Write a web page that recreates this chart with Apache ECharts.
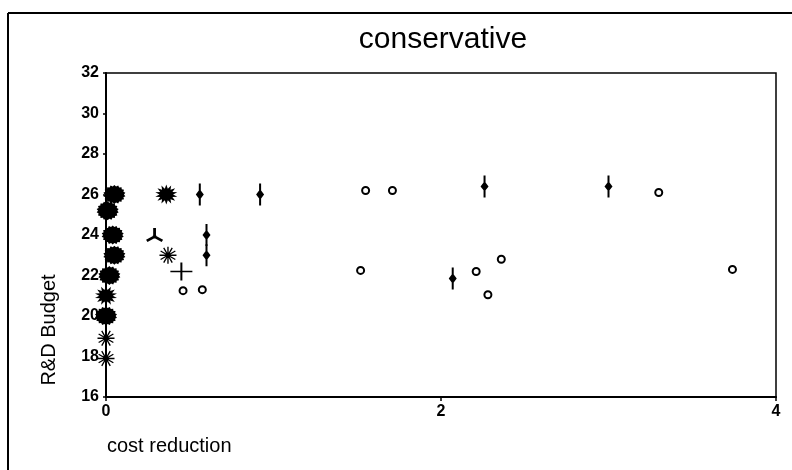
<!DOCTYPE html>
<html>
<head>
<meta charset="utf-8">
<script src="https://cdn.jsdelivr.net/npm/echarts@6/dist/echarts.min.js"></script>
<style>
html,body{margin:0;padding:0;background:#fff;}
#c{width:792px;height:470px;}
</style>
</head>
<body>
<div id="c"></div>
<script>
// ---- data ----
var titleText = 'conservative';
var xName = 'cost reduction';
var yName = 'R&D Budget';
var xTicks = [0, 2, 4];
var yTicks = [16, 18, 20, 22, 24, 26, 28, 30, 32];

var blobPts = [[0.05, 26], [0.01, 25.2], [0.04, 24], [0.05, 23], [0.02, 22], [0, 20]];
var sunPts = [[0.36, 26], [0, 21]];
var asteriskPts = [[0.37, 23], [0, 18.9], [0, 17.9]];
var triPts = [[0.29, 24]];
var plusPts = [[0.45, 22.2]];
var dashPts = [[0.56, 26], [0.6, 24], [0.6, 23], [0.92, 26], [2.26, 26.4], [2.07, 21.85], [3.0, 26.4]];
var circlePts = [[0.46, 21.25], [0.575, 21.3], [1.55, 26.2], [1.71, 26.2], [1.52, 22.25], [2.21, 22.2], [2.36, 22.8], [2.28, 21.05], [3.3, 26.1], [3.74, 22.3]];

// ---- marker shapes ----
function f(v){ return (Math.round(v*1000)/1000).toString(); }
function polyStar(n, inner){
  var s = '';
  for (var i = 0; i < 2*n; i++){
    var r = (i % 2) ? inner : 1;
    var a = -Math.PI/2 + i*Math.PI/n;
    s += (i === 0 ? 'M' : 'L') + f(r*Math.cos(a)) + ',' + f(r*Math.sin(a)) + ' ';
  }
  return 'path://' + s + 'Z';
}
function armsPath(angles, len, t, core){
  var s = '';
  angles.forEach(function(deg){
    var a = deg*Math.PI/180, dx = Math.cos(a), dy = Math.sin(a), px = -dy, py = dx;
    var p = [[-px*t, -py*t], [dx*len - px*t, dy*len - py*t], [dx*len + px*t, dy*len + py*t], [px*t, py*t]];
    s += 'M' + f(p[0][0]) + ',' + f(p[0][1]) + ' L' + f(p[1][0]) + ',' + f(p[1][1]) +
         ' L' + f(p[2][0]) + ',' + f(p[2][1]) + ' L' + f(p[3][0]) + ',' + f(p[3][1]) + ' Z ';
  });
  if (core){
    for (var i = 0; i < 12; i++){
      var b = i*Math.PI/6;
      s += (i === 0 ? 'M' : 'L') + f(core*Math.cos(b)) + ',' + f(core*Math.sin(b)) + ' ';
    }
    s += 'Z';
  }
  return 'path://' + s;
}
var astAngles = [];
for (var k = 0; k < 12; k++) astAngles.push(k*30);
var SYM_BLOB = polyStar(18, 0.86);
var SYM_SUN = polyStar(14, 0.6);
var SYM_AST = armsPath(astAngles, 10, 0.8, 2.6);
var SYM_TRI = armsPath([-90, 30, 150], 9, 1.4, 2);
var SYM_PLUS = armsPath([0, 90, 180, 270], 11, 1, 0);
var SYM_DASH = 'path://M-0.25,-1 L0.25,-1 L0.25,-0.36 L1,0 L0.25,0.36 L0.25,1 L-0.25,1 L-0.25,0.36 L-1,0 L-0.25,-0.36 Z';

var FONT = "'Liberation Sans', Arial, sans-serif";

function sc(name, data, symbol, size, extra){
  var o = {
    name: name, type: 'scatter', data: data, symbol: symbol, symbolSize: size,
    itemStyle: { color: '#000', opacity: 1 },
    emphasis: { disabled: true },
    silent: true, z: 3
  };
  if (extra) for (var key in extra) o[key] = extra[key];
  return o;
}

var chart = echarts.init(document.getElementById('c'), null, { renderer: 'canvas' });
chart.setOption({
  animation: false,
  backgroundColor: '#fff',
  grid: { left: 106, right: 16, top: 73, bottom: 73, show: true, borderColor: '#000', borderWidth: 1.5, backgroundColor: 'transparent' },
  xAxis: {
    type: 'value', min: xTicks[0], max: xTicks[xTicks.length - 1], interval: xTicks[1] - xTicks[0],
    splitLine: { show: false },
    axisLine: { show: true, onZero: false, lineStyle: { color: '#000', width: 2 } },
    axisTick: { show: true, inside: false, length: 4, lineStyle: { color: '#000', width: 1.5 } },
    axisLabel: { color: '#000', fontFamily: FONT, fontSize: 16, fontWeight: 'bold', margin: 7 }
  },
  yAxis: {
    type: 'value', min: yTicks[0], max: yTicks[yTicks.length - 1], interval: yTicks[1] - yTicks[0],
    splitLine: { show: false },
    axisLine: { show: true, onZero: false, lineStyle: { color: '#000', width: 2 } },
    axisTick: { show: true, inside: false, length: 3, lineStyle: { color: '#000', width: 1.5 } },
    axisLabel: { color: '#000', fontFamily: FONT, fontSize: 16, fontWeight: 'bold', margin: 7 }
  },
  graphic: [
    { type: 'line', shape: { x1: 8, y1: 13, x2: 792, y2: 13 }, style: { stroke: '#000', lineWidth: 2 } },
    { type: 'line', shape: { x1: 8, y1: 13, x2: 8, y2: 470 }, style: { stroke: '#000', lineWidth: 2 } },
    { type: 'text', x: 443, y: 40, style: { text: titleText, font: '30px ' + FONT, fill: '#000', textAlign: 'center', textVerticalAlign: 'middle' } },
    { type: 'text', x: 107, y: 446, style: { text: xName, font: '20px ' + FONT, fill: '#000', textAlign: 'left', textVerticalAlign: 'middle' } },
    { type: 'text', x: 49, y: 330, rotation: Math.PI / 2, style: { text: yName, font: '20px ' + FONT, fill: '#000', textAlign: 'center', textVerticalAlign: 'middle' } }
  ],
  series: [
    sc('blob', blobPts, SYM_BLOB, [22, 19]),
    sc('sun', sunPts, SYM_SUN, [22, 20]),
    sc('asterisk', asteriskPts, SYM_AST, 17),
    sc('tri', triPts, SYM_TRI, [17, 14]),
    sc('plus', plusPts, SYM_PLUS, [22, 18]),
    sc('dash', dashPts, SYM_DASH, [8, 22]),
    sc('circle', circlePts, 'circle', 7, { itemStyle: { color: '#fff', borderColor: '#000', borderWidth: 2, opacity: 1 } })
  ]
});
</script>
</body>
</html>
